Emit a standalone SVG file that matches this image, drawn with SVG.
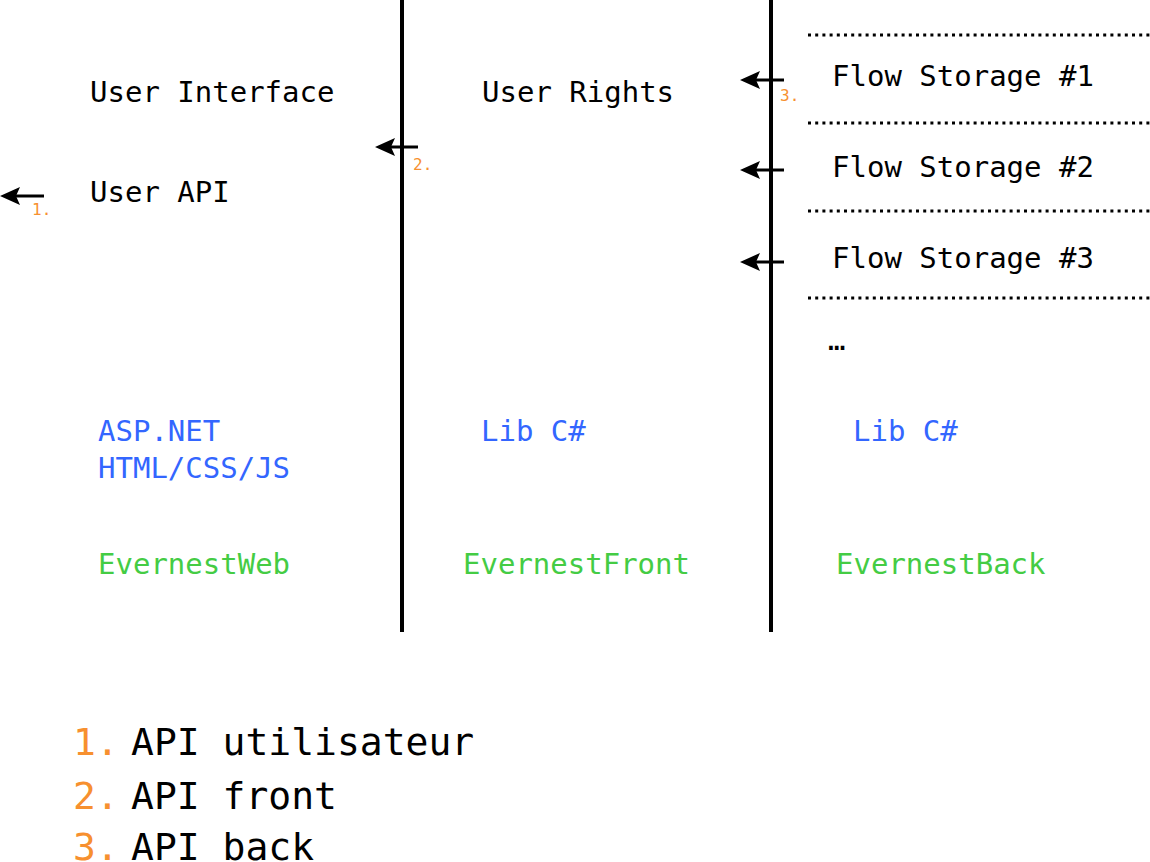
<svg xmlns="http://www.w3.org/2000/svg" width="1150" height="862" viewBox="0 0 1150 862">
<style>
text{font-family:"DejaVu Sans Mono","Liberation Mono",monospace}
.t{font-size:29px;fill:#000}
.b{font-size:29px;fill:#3366ff}
.g{font-size:29px;fill:#44cc44}
.n{font-size:16px;fill:#f7902f}
.lg{font-size:38px;fill:#000}
.lo{font-size:38px;fill:#f7902f}
.sep{stroke:#000;stroke-width:4}
.arr{stroke:#000;stroke-width:3;fill:none}
.head{fill:#000}
.dot{stroke:#000;stroke-width:3;stroke-dasharray:3 4.2}
</style>
<defs>
<path id="ah" class="head" d="M0,0 L20,-9 L16,0 L20,9 Z"/>
</defs>
<g id="separators">
<line class="sep" x1="402" y1="0" x2="402" y2="632"/>
<line class="sep" x1="771" y1="0" x2="771" y2="632"/>
<line class="dot" x1="808" y1="35" x2="1150" y2="35"/>
<line class="dot" x1="808" y1="123" x2="1150" y2="123"/>
<line class="dot" x1="808" y1="211" x2="1150" y2="211"/>
<line class="dot" x1="808" y1="298" x2="1150" y2="298"/>
</g>
<g id="connectors">
<path class="arr" d="M44,196 H12"/><use href="#ah" x="0" y="196"/>
<path class="arr" d="M418,147 H388"/><use href="#ah" x="375" y="147"/>
<path class="arr" d="M784,80 H752"/><use href="#ah" x="740" y="80"/>
<path class="arr" d="M784,170 H752"/><use href="#ah" x="740" y="170"/>
<path class="arr" d="M784,262 H752"/><use href="#ah" x="740" y="262"/>
</g>
<g id="web">
<text class="t" x="90" y="102">User Interface</text>
<text class="t" x="90" y="202">User API</text>
<text class="b" x="98" y="441">ASP.NET</text>
<text class="b" x="98" y="478">HTML/CSS/JS</text>
<text class="g" x="98" y="574">EvernestWeb</text>
<text class="n" x="32" y="215">1.</text>
</g>
<g id="front">
<text class="t" x="482" y="102">User Rights</text>
<text class="b" x="481" y="441">Lib C#</text>
<text class="g" x="463" y="574">EvernestFront</text>
<text class="n" x="413" y="170">2.</text>
</g>
<g id="back">
<text class="t" x="832" y="86">Flow Storage #1</text>
<text class="t" x="832" y="177">Flow Storage #2</text>
<text class="t" x="832" y="268">Flow Storage #3</text>
<text class="t" x="828" y="350">…</text>
<text class="b" x="853" y="441">Lib C#</text>
<text class="g" x="836" y="574">EvernestBack</text>
<text class="n" x="780" y="101">3.</text>
</g>
<g id="legend">
<text class="lo" x="73" y="755">1.</text><text class="lg" x="131" y="755">API utilisateur</text>
<text class="lo" x="73" y="809">2.</text><text class="lg" x="131" y="809">API front</text>
<text class="lo" x="73" y="860">3.</text><text class="lg" x="131" y="860">API back</text>
</g>
</svg>
